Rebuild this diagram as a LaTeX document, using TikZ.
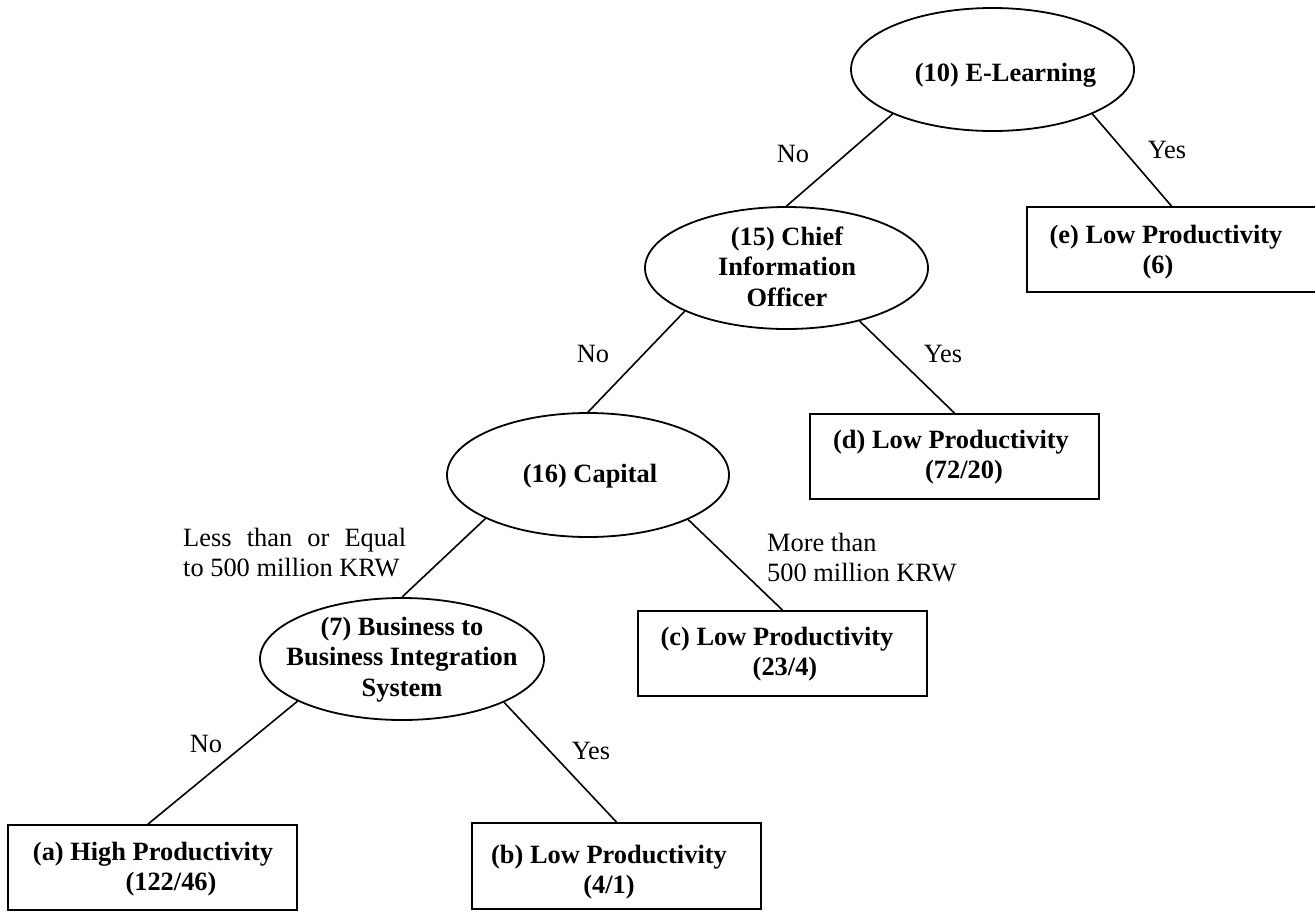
\documentclass[tikz,border=0pt]{standalone}
\usepackage{fontspec}
\setmainfont{Liberation Serif}
\usetikzlibrary{shapes.geometric}
\tikzset{
  dec/.style={draw, ellipse, line width=1.8pt, inner sep=0pt, minimum width=283pt, minimum height=123pt},
  leaf/.style={draw, rectangle, line width=1.8pt, inner sep=0pt, minimum width=289pt, minimum height=85pt},
  bt/.style={font=\fontsize{26.4}{30.5}\selectfont\bfseries, align=center, inner sep=0pt},
  rt/.style={font=\fontsize{26.4}{30.5}\selectfont, inner sep=0pt},
  conn/.style={line width=1.6pt},
}
\begin{document}
\begin{tikzpicture}[x=1pt, y=-1pt]
\useasboundingbox (0,0) rectangle (1315,911);
% decision nodes
\node[dec] (n10) at (992.5,69.5) {};
\node[dec, minimum height=122pt] (n15) at (786.5,268) {};
\node[dec, minimum width=282pt, minimum height=124pt] (n16) at (588,475) {};
\node[dec, minimum width=284pt, minimum height=122pt] (n7) at (402,659) {};
% leaves
\node[leaf] (le) at (1171.5,249.5) {};
\node[leaf] (ld) at (954.5,456.5) {};
\node[leaf] (lc) at (782.5,653.5) {};
\node[leaf] (la) at (152.5,867.5) {};
\node[leaf, minimum height=86pt] (lb) at (616.5,866) {};
% texts of decision nodes
\node[bt, anchor=base] (t10) at (1005.5,81) {(10) E-Learning};
\node[bt] (t15) at (787,269.4) {\strut(15) Chief\\Information\\Officer\strut};
\node[bt, anchor=base] (t16) at (590,482) {(16) Capital};
\node[bt] (t7) at (402,659.4) {\strut(7) Business to\\Business Integration\\System\strut};
% texts of leaves
\node[bt] (te) at (1166,252.2) {\strut(e) Low Productivity\\\hspace*{-16pt}(6)\strut};
\node[bt] (td) at (951,457.2) {\strut(d) Low Productivity\\\hspace*{26pt}(72/20)\strut};
\node[bt] (tc) at (777,654.2) {\strut(c) Low Productivity\\\hspace*{16pt}(23/4)\strut};
\node[bt] (ta) at (153,869.2) {\strut(a) High Productivity\\\hspace*{36pt}(122/46)\strut};
\node[bt] (tb) at (609,872.2) {\strut(b) Low Productivity\\(4/1)\strut};
% connectors
\draw[conn] (n10.204) -- (n15.north);
\draw[conn] (n10.336.7) -- (le.north);
\draw[conn] (n15.203.6) -- (n16.north);
\draw[conn] (n15.324.6) -- (ld.north);
\draw[conn] (n16.203.5) -- (n7.north);
\draw[conn] (n16.336.5) -- (lc.north);
\draw[conn] (n7.202.5) -- ([xshift=-4.5pt]la.north);
\draw[conn] (n7.337.4) -- (lb.north);
% edge labels
\node[rt, anchor=base] (eno1) at (793,162) {No};
\node[rt, anchor=base] (eyes1) at (1167,158) {Yes};
\node[rt, anchor=base] (eno2) at (593,362) {No};
\node[rt, anchor=base] (eyes2) at (943,362) {Yes};
\node[rt, anchor=west, align=left] (eless) at (183,555.2) {\strut\makebox[223pt][s]{Less than or Equal}\\to 500 million KRW\strut};
\node[rt, anchor=west, align=left] (emore) at (767,560.2) {\strut More than\\500 million KRW\strut};
\node[rt, anchor=base] (eno3) at (206,752) {No};
\node[rt, anchor=base] (eyes3) at (591,759) {Yes};
\end{tikzpicture}
\end{document}
